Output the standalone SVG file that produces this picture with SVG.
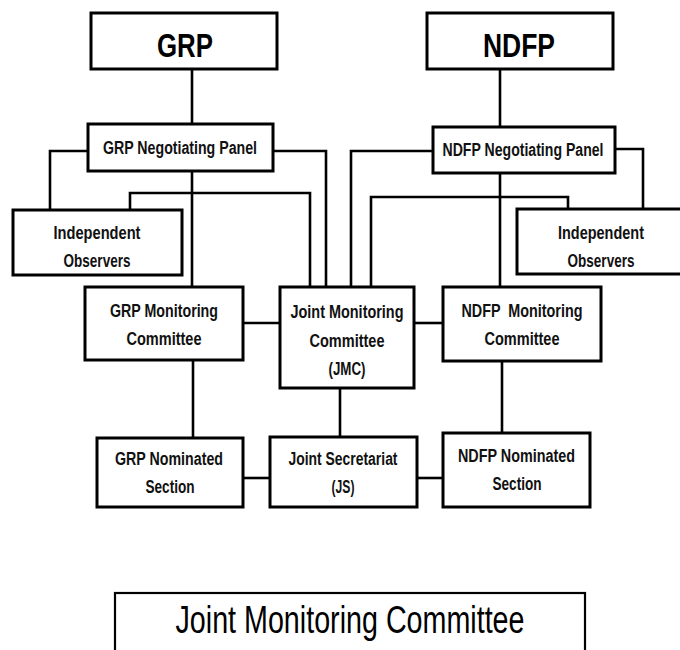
<svg xmlns="http://www.w3.org/2000/svg" width="680" height="650" viewBox="0 0 680 650">
<style>
.box{fill:#fff;stroke:#000;stroke-width:3}
.ln{fill:none;stroke:#000;stroke-width:2.6}
.t{font-family:"Liberation Sans",Arial,sans-serif;font-weight:bold;font-size:18px;fill:#111;text-anchor:middle}
.big{font-family:"Liberation Sans",Arial,sans-serif;font-weight:bold;font-size:34px;fill:#000;text-anchor:middle}
.foot{font-family:"Liberation Sans",Arial,sans-serif;font-size:38px;fill:#000;text-anchor:middle}
</style>
<rect width="680" height="650" fill="#fff"/>
<g id="connectors">
<path class="ln" d="M192 69 V124"/>
<path class="ln" d="M88 151 H50 V210"/>
<path class="ln" d="M273 151 H326 V287"/>
<path class="ln" d="M192 171 V287"/>
<path class="ln" d="M130 210 V193 H310 V287"/>
<path class="ln" d="M500 69 V127"/>
<path class="ln" d="M433 151 H351 V287"/>
<path class="ln" d="M615 149 H643 V209"/>
<path class="ln" d="M371 287 V197 H568 V209"/>
<path class="ln" d="M500 173 V287"/>
<path class="ln" d="M243 323 H280"/>
<path class="ln" d="M414 323 H443"/>
<path class="ln" d="M193 360 V438"/>
<path class="ln" d="M502 361 V433"/>
<path class="ln" d="M340 388 V437"/>
<path class="ln" d="M243 478 H270"/>
<path class="ln" d="M417 478 H443"/>
</g>
<g id="grp">
<rect class="box" x="91" y="13" width="186" height="56"/>
<text class="big" x="185" y="57" textLength="56" lengthAdjust="spacingAndGlyphs">GRP</text>
</g>
<g id="ndfp">
<rect class="box" x="427" y="13" width="186" height="56"/>
<text class="big" x="519" y="57" textLength="72" lengthAdjust="spacingAndGlyphs">NDFP</text>
</g>
<g id="grp-panel">
<rect class="box" x="88" y="124" width="185" height="47"/>
<text class="t" x="180" y="154" textLength="154" lengthAdjust="spacingAndGlyphs">GRP Negotiating Panel</text>
</g>
<g id="ndfp-panel">
<rect class="box" x="433" y="127" width="182" height="46"/>
<text class="t" x="523" y="156" textLength="161" lengthAdjust="spacingAndGlyphs">NDFP Negotiating Panel</text>
</g>
<g id="observers-left">
<rect class="box" x="13" y="210" width="169" height="65"/>
<text class="t" x="97" y="239" textLength="87" lengthAdjust="spacingAndGlyphs">Independent</text>
<text class="t" x="97" y="267" textLength="67" lengthAdjust="spacingAndGlyphs">Observers</text>
</g>
<g id="observers-right">
<rect class="box" x="517" y="209" width="180" height="65"/>
<text class="t" x="601" y="239" textLength="86" lengthAdjust="spacingAndGlyphs">Independent</text>
<text class="t" x="601" y="267" textLength="67" lengthAdjust="spacingAndGlyphs">Observers</text>
</g>
<g id="grp-mc">
<rect class="box" x="85" y="287" width="158" height="73"/>
<text class="t" x="164" y="317" textLength="108" lengthAdjust="spacingAndGlyphs">GRP Monitoring</text>
<text class="t" x="164" y="345" textLength="75" lengthAdjust="spacingAndGlyphs">Committee</text>
</g>
<g id="jmc">
<rect class="box" x="280" y="287" width="134" height="101"/>
<text class="t" x="347" y="318" textLength="113" lengthAdjust="spacingAndGlyphs">Joint Monitoring</text>
<text class="t" x="347" y="347" textLength="75" lengthAdjust="spacingAndGlyphs">Committee</text>
<text class="t" x="347" y="375" textLength="37" lengthAdjust="spacingAndGlyphs">(JMC)</text>
</g>
<g id="ndfp-mc">
<rect class="box" x="443" y="287" width="158" height="74"/>
<text class="t" x="522" y="317" textLength="121" lengthAdjust="spacingAndGlyphs" xml:space="preserve">NDFP  Monitoring</text>
<text class="t" x="522" y="345" textLength="75" lengthAdjust="spacingAndGlyphs">Committee</text>
</g>
<g id="grp-ns">
<rect class="box" x="97" y="438" width="146" height="69"/>
<text class="t" x="169" y="465" textLength="108" lengthAdjust="spacingAndGlyphs">GRP Nominated</text>
<text class="t" x="170" y="493" textLength="49" lengthAdjust="spacingAndGlyphs">Section</text>
</g>
<g id="js">
<rect class="box" x="270" y="437" width="147" height="70"/>
<text class="t" x="343" y="465" textLength="109" lengthAdjust="spacingAndGlyphs">Joint Secretariat</text>
<text class="t" x="343" y="493" textLength="23" lengthAdjust="spacingAndGlyphs">(JS)</text>
</g>
<g id="ndfp-ns">
<rect class="box" x="443" y="433" width="147" height="74"/>
<text class="t" x="516.5" y="462" textLength="117" lengthAdjust="spacingAndGlyphs">NDFP Nominated</text>
<text class="t" x="517" y="490" textLength="49" lengthAdjust="spacingAndGlyphs">Section</text>
</g>
<g id="jmc-title">
<rect x="115" y="593" width="470" height="70" fill="#fff" stroke="#000" stroke-width="2.2"/>
<text class="foot" x="350" y="633" textLength="349" lengthAdjust="spacingAndGlyphs">Joint Monitoring Committee</text>
</g>
</svg>
